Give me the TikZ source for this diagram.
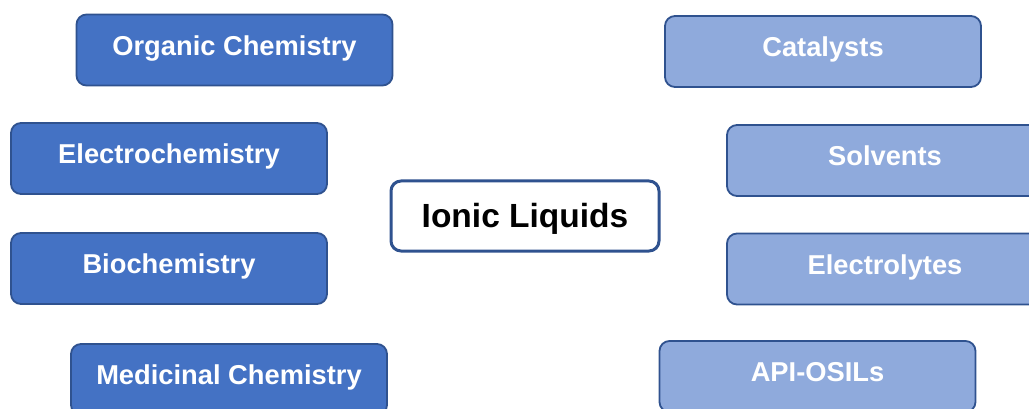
\documentclass[tikz,border=0pt]{standalone}
\usepackage{fontspec}
\setmainfont{Liberation Sans}
\definecolor{darkfill}{HTML}{4472C4}
\definecolor{lightfill}{HTML}{8FAADC}
\definecolor{edge}{HTML}{2F528F}
\tikzset{
  topic/.style={draw=edge, line width=1.8pt, rounded corners=10pt, minimum width=316pt, minimum height=71pt, text=white, font=\fontsize{27.3}{30}\selectfont\bfseries, inner sep=0pt, text height=16pt, text depth=5.5pt},
  dtopic/.style={topic, fill=darkfill},
  ltopic/.style={topic, fill=lightfill},
  centre/.style={draw=edge, line width=3pt, rounded corners=10pt, fill=white, minimum width=268pt, minimum height=70pt, text=black, font=\fontsize{33.5}{36}\selectfont\bfseries, inner sep=0pt, text height=24pt, text depth=0pt}
}
\begin{document}
\begin{tikzpicture}[x=1pt,y=-1pt]
\useasboundingbox (0,0) rectangle (1029,409);
\clip (0,0) rectangle (1029,409);
\node[dtopic] (org) at (234.5,50) {Organic Chemistry};
\node[dtopic] (elc) at (169,158.5) {Electrochemistry};
\node[dtopic] (bio) at (169,268.5) {Biochemistry};
\node[dtopic] (med) at (229,379.5) {Medicinal Chemistry};
\node[ltopic] (cat) at (823,51.5) {Catalysts};
\node[ltopic] (sol) at (885,160.5) {Solvents};
\node[ltopic] (ely) at (885,269) {Electrolytes};
\node[ltopic] (api) at (817.5,376.5) {API-OSILs};
\node[centre] (il) at (525,216) {Ionic Liquids};
\end{tikzpicture}
\end{document}
